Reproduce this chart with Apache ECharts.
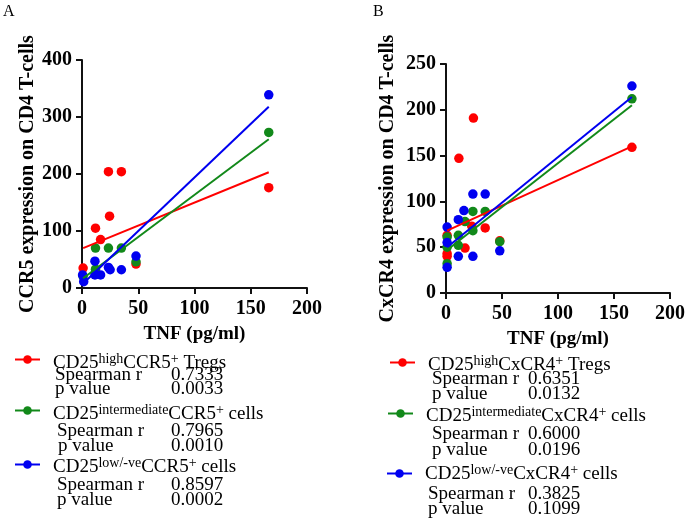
<!DOCTYPE html>
<html><head><meta charset="utf-8">
<script src="https://cdn.jsdelivr.net/npm/echarts@6/dist/echarts.min.js"></script>
<style>html,body{margin:0;padding:0;background:#fff}#c{width:688px;height:522px}</style>
</head><body><div id="c"></div>
<script>
// ---------- Data ----------
// Panel A: CCR5 expression vs TNF
const a_highX = [1, 12, 16.5, 23.5, 24.5, 35, 48, 166];
const a_highY = [35, 105, 85, 204, 126, 204, 42, 176];
const a_intX  = [1, 12, 12, 23.5, 35, 48, 166];
const a_intY  = [20, 70, 33, 70, 70, 46, 273];
const a_lowX  = [0.5, 1.5, 11.5, 11.5, 16.5, 23.5, 25, 35, 48, 166];
const a_lowY  = [23, 11, 47, 23, 23, 36, 32, 32, 56, 339];
const a_fitHighX = [1, 166], a_fitHighY = [70, 203];
const a_fitIntX  = [1, 166], a_fitIntY  = [17, 261];
const a_fitLowX  = [1, 166], a_fitLowY  = [8, 318];

// Panel B: CxCR4 expression vs TNF
const b_highX = [1, 1, 1, 11.5, 17, 23, 24.5, 35, 48, 166];
const b_highY = [63, 43, 40, 147, 49, 73, 191, 71, 57, 159];
const b_intX  = [1, 1, 1, 11, 11, 17, 24, 24, 35, 48, 166];
const b_intY  = [61, 32, 50, 63, 52, 78, 89, 68, 89, 56, 212];
const b_lowX  = [1, 1, 1, 11, 11, 16, 24, 24, 35, 48, 166];
const b_lowY  = [72, 55, 28, 80, 40, 90, 108, 40, 108, 46, 226];
const b_fitHighX = [1, 166], b_fitHighY = [68, 160];
const b_fitIntX  = [1, 166], b_fitIntY  = [47, 205];
const b_fitLowX  = [1, 166], b_fitLowY  = [50, 214];

// Axis ticks
const xTicks = [0, 50, 100, 150, 200];
const aYTicks = [0, 100, 200, 300, 400];
const bYTicks = [0, 50, 100, 150, 200, 250];

// Legend texts
const aLegend = [
  {sup: 'high', marker: 'CCR5', tail: ' Tregs', r: '0.7333', p: '0.0033'},
  {sup: 'intermediate', marker: 'CCR5', tail: ' cells', r: '0.7965', p: '0.0010'},
  {sup: 'low/-ve', marker: 'CCR5', tail: ' cells', r: '0.8597', p: '0.0002'}
];
const bLegend = [
  {sup: 'high', marker: 'CxCR4', tail: ' Tregs', r: '0.6351', p: '0.0132'},
  {sup: 'intermediate', marker: 'CxCR4', tail: ' cells', r: '0.6000', p: '0.0196'},
  {sup: 'low/-ve', marker: 'CxCR4', tail: ' cells', r: '0.3825', p: '0.1099'}
];

// ---------- Styling ----------
const RED = '#ff0000', GREEN = '#12891a', BLUE = '#0000f0';
const COLORS = [RED, GREEN, BLUE];
const SERIF = '"Liberation Serif", "Times New Roman", serif';
const zip = (xs, ys) => xs.map((x, i) => [x, ys[i]]);

function xAxis(gi) {
  return {
    type: 'value', gridIndex: gi, min: xTicks[0], max: xTicks[xTicks.length - 1], interval: 50,
    name: 'TNF (pg/ml)', nameLocation: 'middle', nameGap: 37,
    nameTextStyle: {fontFamily: SERIF, fontWeight: 'bold', fontSize: 19, color: '#000'},
    axisLine: {show: true, onZero: false, lineStyle: {color: '#111', width: 2}},
    axisTick: {show: true, length: 6, lineStyle: {color: '#111', width: 2}},
    axisLabel: {fontFamily: SERIF, fontWeight: 'bold', fontSize: 20, color: '#000', margin: 11},
    splitLine: {show: false}
  };
}
function yAxis(gi, ticks, name, gap) {
  return {
    type: 'value', gridIndex: gi, min: ticks[0], max: ticks[ticks.length - 1], interval: ticks[1] - ticks[0],
    name: name, nameLocation: 'middle', nameGap: gap, nameRotate: 90,
    nameTextStyle: {fontFamily: SERIF, fontWeight: 'bold', fontSize: 20, color: '#000'},
    axisLine: {show: true, onZero: false, lineStyle: {color: '#111', width: 2}},
    axisTick: {show: true, length: 6, lineStyle: {color: '#111', width: 2}},
    axisLabel: {fontFamily: SERIF, fontWeight: 'bold', fontSize: 20, color: '#000', margin: 10},
    splitLine: {show: false}
  };
}
function scatter(gi, xs, ys, color, z) {
  return {type: 'scatter', xAxisIndex: gi, yAxisIndex: gi, data: zip(xs, ys),
    symbol: 'circle', symbolSize: 9.5, itemStyle: {color: color, opacity: 1}, z: z, silent: true};
}
function fit(gi, xs, ys, color) {
  return {type: 'line', xAxisIndex: gi, yAxisIndex: gi, data: zip(xs, ys),
    showSymbol: false, lineStyle: {color: color, width: 2}, z: 10, silent: true, animation: false};
}

// Legend graphics
function legendBlock(items, pos) {
  const els = [];
  items.forEach((it, i) => {
    const P = pos[i];
    els.push({type: 'line', shape: {x1: P.ix1, y1: P.iy, x2: P.ix2, y2: P.iy},
      style: {stroke: COLORS[i], lineWidth: 2}});
    els.push({type: 'circle', shape: {cx: (P.ix1 + P.ix2) / 2, cy: P.iy, r: 4.3},
      style: {fill: COLORS[i]}});
    els.push({type: 'text', x: P.tx, y: P.ty, style: {
      text: '{m|CD25}{s|' + it.sup + '}{m|' + it.marker + '}{s|+}{m|' + it.tail + '}',
      verticalAlign: 'middle', fill: '#000',
      rich: {
        m: {fontFamily: SERIF, fontSize: 19, lineHeight: 22, fill: '#000'},
        s: {fontFamily: SERIF, fontSize: 14, lineHeight: 10, verticalAlign: 'top', fill: '#000'}
      }}});
    const rows = [['Spearman r', it.r, P.ry, P.rx], ['p value', it.p, P.py, P.px]];
    rows.forEach(r => {
      els.push({type: 'text', x: r[3], y: r[2], style: {text: r[0], fontFamily: SERIF, fontSize: 19,
        fill: '#000', verticalAlign: 'middle'}});
      els.push({type: 'text', x: P.vx, y: r[2], style: {text: r[1], fontFamily: SERIF, fontSize: 19,
        fill: '#000', verticalAlign: 'middle'}});
    });
  });
  return els;
}
const aPos = [
  {ix1: 15, ix2: 40, iy: 359.5, tx: 53, ty: 363, rx: 55, ry: 375, px: 55, py: 389, vx: 171},
  {ix1: 15, ix2: 40, iy: 410.5, tx: 53, ty: 414, rx: 57, ry: 431, px: 58, py: 446, vx: 171},
  {ix1: 15, ix2: 40, iy: 464.5, tx: 53, ty: 467.5, rx: 57, ry: 485, px: 57, py: 500.5, vx: 171}
];
const bPos = [
  {ix1: 390, ix2: 415, iy: 362.5, tx: 428, ty: 365, rx: 432, ry: 379, px: 432, py: 394, vx: 528},
  {ix1: 388, ix2: 413, iy: 413.5, tx: 426, ty: 416.5, rx: 432, ry: 434, px: 432, py: 450, vx: 528},
  {ix1: 387, ix2: 412, iy: 473.5, tx: 425, ty: 474.5, rx: 428, ry: 494, px: 428, py: 509.5, vx: 528}
];

const chart = echarts.init(document.getElementById('c'), null, {renderer: 'canvas'});
chart.setOption({
  animation: false,
  backgroundColor: '#fff',
  grid: [
    {left: 82, top: 60, width: 225, height: 228},
    {left: 446, top: 64, width: 224, height: 229}
  ],
  xAxis: [xAxis(0), xAxis(1)],
  yAxis: [
    yAxis(0, aYTicks, 'CCR5 expression on CD4 T-cells', 44),
    yAxis(1, bYTicks, 'CxCR4 expression on CD4 T-cells', 48)
  ],
  series: [
    scatter(0, a_highX, a_highY, RED, 2),
    scatter(0, a_intX, a_intY, GREEN, 3),
    scatter(0, a_lowX, a_lowY, BLUE, 4),
    fit(0, a_fitHighX, a_fitHighY, RED),
    fit(0, a_fitIntX, a_fitIntY, GREEN),
    fit(0, a_fitLowX, a_fitLowY, BLUE),
    scatter(1, b_highX, b_highY, RED, 2),
    scatter(1, b_intX, b_intY, GREEN, 3),
    scatter(1, b_lowX, b_lowY, BLUE, 4),
    fit(1, b_fitHighX, b_fitHighY, RED),
    fit(1, b_fitIntX, b_fitIntY, GREEN),
    fit(1, b_fitLowX, b_fitLowY, BLUE)
  ],
  graphic: [
    {type: 'text', x: 3, y: 4, style: {text: 'A', fontFamily: SERIF, fontSize: 16, fill: '#000'}},
    {type: 'text', x: 373, y: 4, style: {text: 'B', fontFamily: SERIF, fontSize: 16, fill: '#000'}}
  ].concat(legendBlock(aLegend, aPos), legendBlock(bLegend, bPos))
});
</script></body></html>
